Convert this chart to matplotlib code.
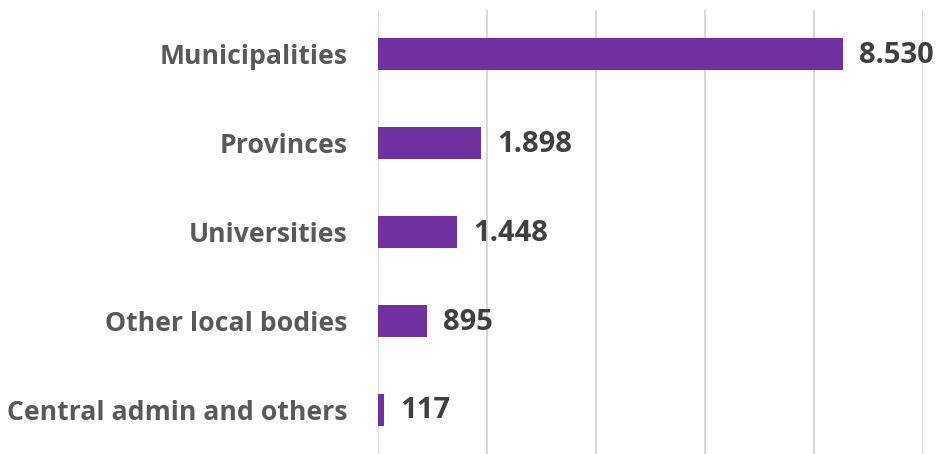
import matplotlib
matplotlib.use('Agg')
import matplotlib.pyplot as plt

categories = ["Municipalities", "Provinces", "Universities", "Other local bodies", "Central admin and others"]
values = [8530, 1898, 1448, 895, 117]
value_labels = ["8.530", "1.898", "1.448", "895", "117"]

bar_color = '#7030A0'
label_color = '#595959'
value_color = '#404040'
font = 'Open Sans'

fig = plt.figure(figsize=(9.37, 4.54), dpi=100)
ax = fig.add_axes([378 / 937, 0, (923 - 378) / 937, 1 - 10 / 454])

y = list(range(len(categories)))
ax.barh(y, values, height=0.36, color=bar_color, zorder=3)

for yi, v, lab in zip(y, values, value_labels):
    ax.annotate(lab, xy=(v, yi), xytext=(11.5, -1), textcoords='offset points',
                va='center', ha='left', fontsize=21, fontweight='bold',
                color=value_color, family=font)

ax.set_xlim(0, 10000)
ax.set_ylim(len(categories) - 0.5, -0.5)
ax.set_xticks(range(0, 10001, 2000))
ax.set_xticklabels([])
ax.set_yticks(y)
ax.set_yticklabels(categories, fontsize=19.2, fontweight='bold', color=label_color, family=font)
ax.tick_params(axis='both', length=0)
ax.tick_params(axis='y', pad=22)
ax.grid(axis='x', color='#D9D9D9', linewidth=1.5, zorder=0)
for s in ax.spines.values():
    s.set_visible(False)

fig.savefig('out.png', dpi=100)
